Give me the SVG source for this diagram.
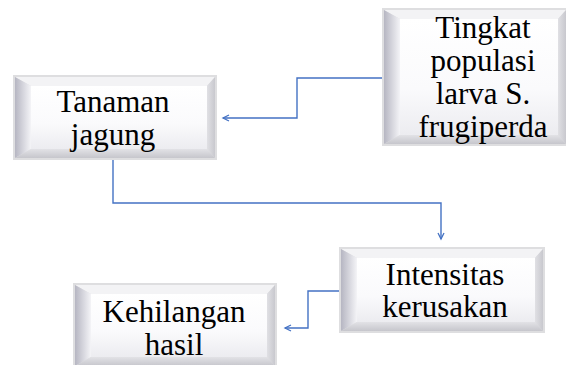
<svg xmlns="http://www.w3.org/2000/svg" width="566" height="365" viewBox="0 0 566 365">
<defs>
<linearGradient id="gl" x1="0" y1="0" x2="1" y2="0"><stop offset="0" stop-color="#b6b6c2"/><stop offset="1" stop-color="#f4f4f7"/></linearGradient>
<linearGradient id="gb" x1="0" y1="0" x2="0" y2="1"><stop offset="0" stop-color="#e2e2e6"/><stop offset="1" stop-color="#c6c6cc"/></linearGradient>
<linearGradient id="gr" x1="0" y1="0" x2="1" y2="0"><stop offset="0" stop-color="#e0e0e4"/><stop offset="1" stop-color="#c8c8ce"/></linearGradient>
<linearGradient id="gf" x1="0" y1="0" x2="0" y2="1"><stop offset="0" stop-color="#ffffff"/><stop offset="0.6" stop-color="#fafafc"/><stop offset="1" stop-color="#ececf0"/></linearGradient>
<marker id="ah" markerUnits="userSpaceOnUse" markerWidth="10" markerHeight="10" refX="7" refY="4" orient="auto">
<path d="M1,1 L7,4 L1,7" fill="none" stroke="#4472c4" stroke-width="1.3"/>
</marker>
</defs>
<style>
.frame{fill:#dedee0}
.top{fill:#f3f3f5}
.left{fill:url(#gl)}
.bot{fill:url(#gb)}
.right{fill:url(#gr)}
.face{fill:url(#gf)}
.lbl{font-size:31px;fill:#000;text-anchor:middle}
.conn{fill:none;stroke:#4472c4;stroke-width:1.4}
</style>
<rect width="566" height="365" fill="#fff"/>
<g id="node-tanaman">
<rect class="frame" x="13" y="75" width="204" height="85"/>
<polygon class="top" points="15,77 215,77 207,86 31,86"/>
<polygon class="left" points="15,77 31,86 31,149 15,158"/>
<polygon class="bot" points="15,158 31,149 207,149 215,158"/>
<polygon class="right" points="215,77 215,158 207,149 207,86"/>
<rect class="face" x="31" y="86" width="176" height="63"/>
<text class="lbl" font-family="'Liberation Serif', 'DejaVu Serif', serif" x="113" y="112">Tanaman</text>
<text class="lbl" font-family="'Liberation Serif', 'DejaVu Serif', serif" x="113" y="145">jagung</text>
</g>
<g id="node-tingkat">
<rect class="frame" x="382" y="8" width="186" height="138"/>
<polygon class="top" points="384,10 566,10 558,19 400,19"/>
<polygon class="left" points="384,10 400,19 400,135 384,144"/>
<polygon class="bot" points="384,144 400,135 558,135 566,144"/>
<polygon class="right" points="566,10 566,144 558,135 558,19"/>
<rect class="face" x="400" y="19" width="158" height="116"/>
<text class="lbl" font-family="'Liberation Serif', 'DejaVu Serif', serif" x="483" y="38">Tingkat</text>
<text class="lbl" font-family="'Liberation Serif', 'DejaVu Serif', serif" x="483" y="71">populasi</text>
<text class="lbl" font-family="'Liberation Serif', 'DejaVu Serif', serif" x="483" y="104">larva S.</text>
<text class="lbl" font-family="'Liberation Serif', 'DejaVu Serif', serif" x="483" y="137">frugiperda</text>
</g>
<g id="node-intensitas">
<rect class="frame" x="339" y="247" width="206" height="86"/>
<polygon class="top" points="341,249 543,249 535,258 357,258"/>
<polygon class="left" points="341,249 357,258 357,322 341,331"/>
<polygon class="bot" points="341,331 357,322 535,322 543,331"/>
<polygon class="right" points="543,249 543,331 535,322 535,258"/>
<rect class="face" x="357" y="258" width="178" height="64"/>
<text class="lbl" font-family="'Liberation Serif', 'DejaVu Serif', serif" x="445" y="285">Intensitas</text>
<text class="lbl" font-family="'Liberation Serif', 'DejaVu Serif', serif" x="445" y="317">kerusakan</text>
</g>
<g id="node-kehilangan">
<rect class="frame" x="73" y="283" width="204" height="85"/>
<polygon class="top" points="75,285 275,285 267,294 91,294"/>
<polygon class="left" points="75,285 91,294 91,357 75,366"/>
<polygon class="bot" points="75,366 91,357 267,357 275,366"/>
<polygon class="right" points="275,285 275,366 267,357 267,294"/>
<rect class="face" x="91" y="294" width="176" height="63"/>
<text class="lbl" font-family="'Liberation Serif', 'DejaVu Serif', serif" x="174" y="322">Kehilangan</text>
<text class="lbl" font-family="'Liberation Serif', 'DejaVu Serif', serif" x="174" y="355">hasil</text>
</g>
<g id="connectors">
<path class="conn" d="M382,78 H297 V118 H223" marker-end="url(#ah)"/>
<path class="conn" d="M113,160 V203 H441 V239" marker-end="url(#ah)"/>
<path class="conn" d="M339,291 H308 V328 H285" marker-end="url(#ah)"/>
</g>
</svg>
